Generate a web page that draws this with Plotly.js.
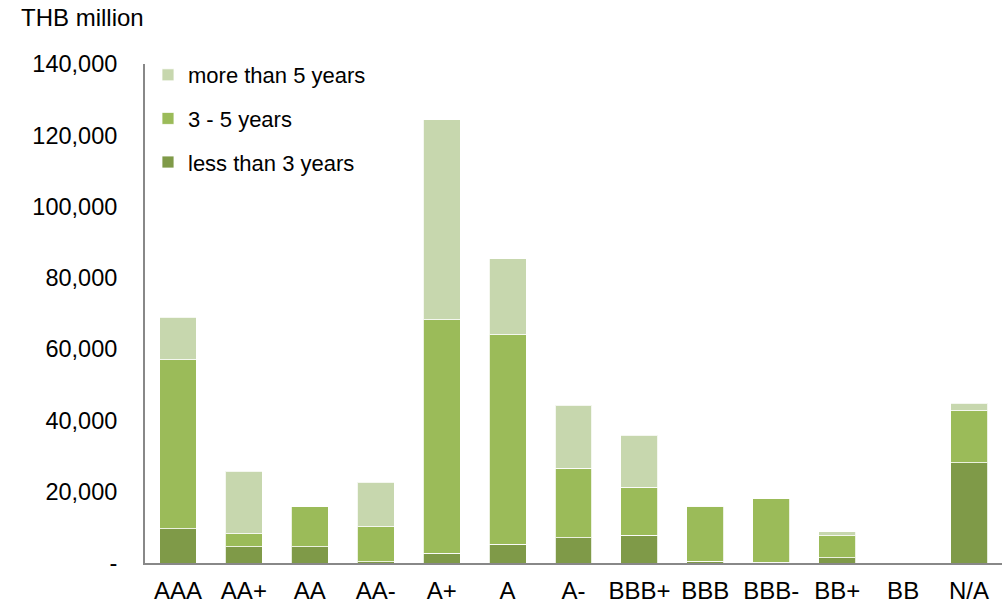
<!DOCTYPE html>
<html>
<head>
<meta charset="utf-8">
<script src="https://cdn.plot.ly/plotly-3.0.1.min.js"></script>
<style>html,body{margin:0;padding:0;background:#fff;}#chart{width:1004px;height:604px;}</style>
</head>
<body>
<div id="chart"></div>
<script>
const categories = ["AAA","AA+","AA","AA-","A+","A","A-","BBB+","BBB","BBB-","BB+","BB","N/A"];
const lessThan3 = [9600, 4600, 4600, 400, 2700, 5200, 7100, 7800, 500, 200, 1500, 0, 28100];
const threeToFive = [47400, 3600, 11200, 9800, 65600, 58800, 19500, 13500, 15400, 17800, 6200, 0, 14600];
const moreThan5 = [12000, 17500, 0, 12500, 56000, 21300, 17700, 14600, 0, 0, 1000, 0, 2100];
const seriesNames = ["less than 3 years", "3 - 5 years", "more than 5 years"];
const yTickVals = [0, 20000, 40000, 60000, 80000, 100000, 120000, 140000];
const yTickText = ["-", "20,000", "40,000", "60,000", "80,000", "100,000", "120,000", "140,000"];

const colors = ["#7F9A48", "#9BBB59", "#C7D7AE"];
const series = [lessThan3, threeToFive, moreThan5];
const FONT = "Liberation Sans, Arial, sans-serif";

const traces = series.map((vals, i) => ({
  type: "bar",
  x: categories,
  y: vals,
  name: seriesNames[i],
  legendgroup: "g" + i,
  legendrank: 3 - i,
  marker: { color: colors[i], line: { color: "rgba(255,255,255,0.8)", width: 1 } },
  hoverinfo: "x+y+name"
}));

const layout = {
  width: 1004,
  height: 604,
  margin: { l: 145, r: 2, t: 64, b: 41 },
  paper_bgcolor: "#ffffff",
  plot_bgcolor: "#ffffff",
  barmode: "stack",
  bargap: 0.44,
  font: { family: FONT, size: 22, color: "#000000" },
  showlegend: true,
  legend: {
    x: 0.0035, y: 1.02, xanchor: "left", yanchor: "top",
    traceorder: "grouped",
    tracegroupgap: 12,
    font: { family: FONT, size: 22, color: "#000000" },
    bgcolor: "rgba(0,0,0,0)",
    borderwidth: 0
  },
  xaxis: {
    type: "category",
    categoryorder: "array",
    categoryarray: categories,
    showline: true, linecolor: "#888888", linewidth: 2,
    showgrid: false, zeroline: false, ticks: "",
    ticklabelstandoff: 5,
    tickfont: { family: FONT, size: 24, color: "#000000" },
    fixedrange: true
  },
  yaxis: {
    range: [0, 140000],
    tickvals: yTickVals,
    ticktext: yTickText,
    showline: true, linecolor: "#888888", linewidth: 2,
    showgrid: false, zeroline: false, ticks: "",
    ticklabelstandoff: 21,
    tickfont: { family: FONT, size: 23.5, color: "#000000" },
    fixedrange: true
  },
  annotations: [{
    text: "THB million",
    xref: "paper", yref: "paper",
    x: -0.1475, y: 1.0, xanchor: "left", yanchor: "bottom",
    yshift: 31,
    showarrow: false,
    font: { family: FONT, size: 24, color: "#000000" }
  }]
};

Plotly.newPlot("chart", traces, layout, { displayModeBar: false, staticPlot: true });
</script>
</body>
</html>
